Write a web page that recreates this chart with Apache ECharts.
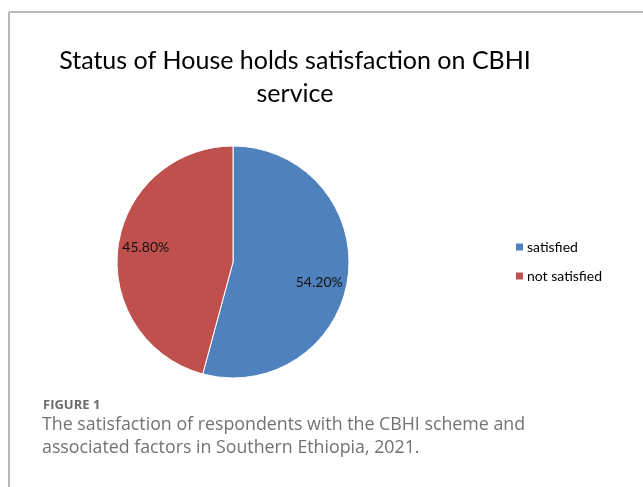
<!DOCTYPE html>
<html>
<head>
<meta charset="utf-8">
<script src="https://cdn.jsdelivr.net/npm/echarts@6/dist/echarts.min.js"></script>
<style>
html,body{margin:0;padding:0;background:#fff;}
#chart{width:643px;height:487px;}
</style>
</head>
<body>
<div id="chart"></div>
<script>
const categories = ['satisfied', 'not satisfied'];
const values = [54.2, 45.8];
const labelTexts = ['54.20%', '45.80%'];
const colors = ['#4F81BD', '#C0504D'];
const titleText = 'Status of House holds satisfaction on CBHI\nservice';
const captionHead = 'FIGURE 1';
const captionLines = ['The satisfaction of respondents with the CBHI scheme and', 'associated factors in Southern Ethiopia, 2021.'];

const chart = echarts.init(document.getElementById('chart'), null, {renderer: 'canvas'});
const pieData = categories.map((c, i) => ({name: c, value: values[i], itemStyle: {color: colors[i]}}));
const labelData = categories.map((c, i) => ({
  name: c, value: values[i],
  label: {formatter: labelTexts[i], offset: i === 0 ? [-1, 9] : [0, -3]}
}));

const option = {
  animation: false,
  title: {
    text: titleText,
    left: 290, top: 39, textAlign: 'center',
    textStyle: {fontFamily: 'Lato', fontSize: 25, fontWeight: 'normal', color: '#000', lineHeight: 33}
  },
  legend: {
    orient: 'vertical', left: 514, top: 240, padding: 0,
    icon: 'rect', itemWidth: 9, itemHeight: 9, itemGap: 15,
    data: categories,
    textStyle: {fontFamily: 'Lato', fontSize: 14, color: '#000', padding: [0, 0, 0, -2]}
  },
  series: [
    {
      type: 'pie', center: [233, 262], radius: 116, startAngle: 90, clockwise: true,
      silent: true, label: {show: false}, labelLine: {show: false},
      itemStyle: {borderColor: '#fff', borderWidth: 1},
      data: pieData
    },
    {
      type: 'pie', center: [233, 262], radius: 170, startAngle: 90, clockwise: true,
      silent: true, legendHoverLink: false,
      itemStyle: {color: 'rgba(0,0,0,0)'},
      label: {show: true, position: 'inside', fontFamily: 'Lato', fontSize: 14, color: '#111'},
      labelLine: {show: false},
      data: labelData
    }
  ],
  graphic: [
    {type: 'line', shape: {x1: 9, y1: 12, x2: 643, y2: 12}, style: {stroke: '#b9b9b9', lineWidth: 2}},
    {type: 'line', shape: {x1: 9, y1: 12, x2: 9, y2: 487}, style: {stroke: '#b9b9b9', lineWidth: 2}},
    {type: 'text', left: 43, top: 399, style: {text: captionHead, font: 'bold 13px "Open Sans"', fill: '#6a6a6a'}},
    {type: 'text', left: 42, top: 416, style: {text: captionLines[0], font: '17.8px "Open Sans"', fill: '#727272'}},
    {type: 'text', left: 42, top: 439, style: {text: captionLines[1], font: '17.8px "Open Sans"', fill: '#727272'}}
  ]
};
chart.setOption(option);
</script>
</body>
</html>
